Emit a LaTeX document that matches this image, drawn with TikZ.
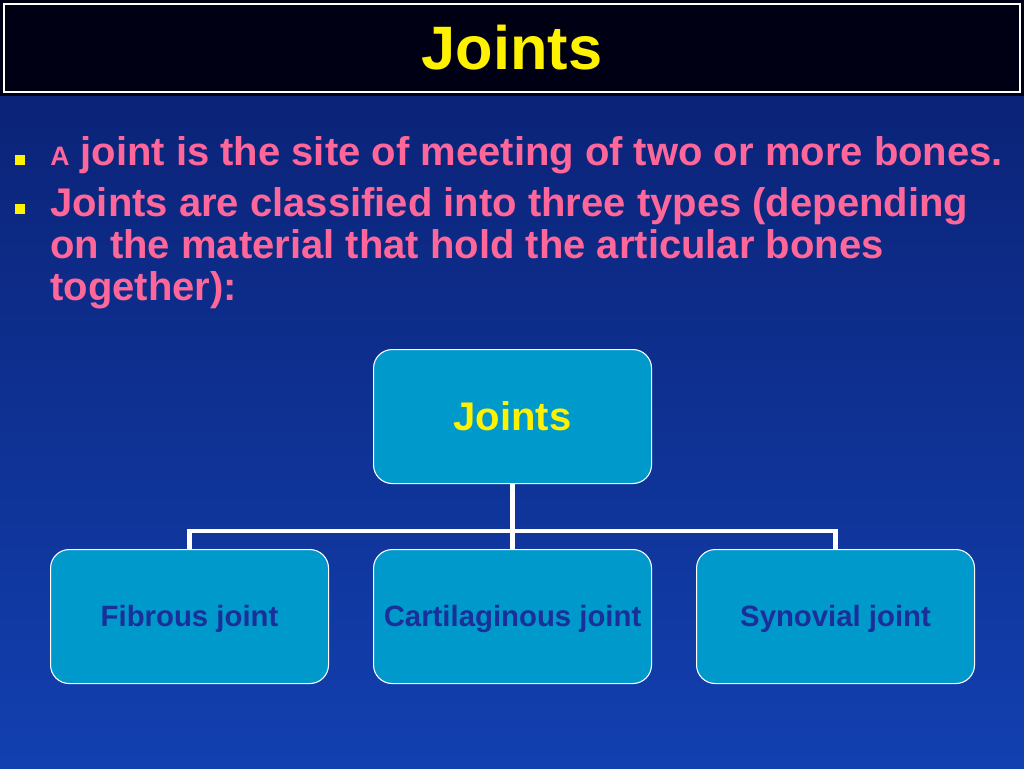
\documentclass[tikz,border=0pt]{standalone}
\usepackage{fontspec}
\setmainfont{Liberation Sans}
\definecolor{bgtop}{HTML}{0A1F70}
\definecolor{bgbot}{HTML}{1240B0}
\definecolor{pinktxt}{HTML}{FF6699}
\definecolor{boxfill}{HTML}{0099CC}
\definecolor{boxtxt}{HTML}{1A2F99}
\begin{document}
\begin{tikzpicture}[x=0.75pt,y=-0.75pt,
  box/.style={draw=white,line width=0.8pt,fill=boxfill,rounded corners=14pt,minimum width=208.5pt,minimum height=100.5pt,anchor=north west,inner sep=0pt},
  btxt/.style={text=boxtxt,font=\bfseries\fontsize{22}{25}\selectfont},
  conn/.style={draw=white,line width=3.5pt},
  bullet/.style={fill=yellow,minimum size=7.5pt,inner sep=0pt},
  body/.style={text=pinktxt,font=\bfseries\fontsize{30}{31.5}\selectfont,anchor=north west,align=left,inner sep=0pt}]
\useasboundingbox (0,0) rectangle (1024,768);
\shade[top color=bgtop,bottom color=bgbot] (0,0) rectangle (1024,768);
\fill[black!80!blue!40!black] (0,0) rectangle (1024,96);
\draw[white,line width=1.5pt] (4,4) rectangle (1020,92);
\node[text=yellow,font=\bfseries\fontsize{46}{50}\selectfont] (title) at (512,48) {Joints};
\node[bullet] (b1) at (20,160) {};
\node[bullet] (b2) at (20,209) {};
\node[body] (t1) at (50,136) {{\fontsize{20}{22}\selectfont A} joint is the site of meeting of two or more bones.};
\node[body] (t2) at (50,187) {Joints are classified into three types (depending\\on the material that hold the articular bones\\together):};
\node[box] (top) at (373,349) {};
\node[text=yellow,font=\bfseries\fontsize{30}{32}\selectfont] at (top.center) {Joints};
\node[box] (f) at (50,549) {};
\node[box] (c) at (373,549) {};
\node[box] (s) at (696,549) {};
\node[btxt] at ([yshift=-2pt]f.center) {Fibrous joint};
\node[btxt] at ([yshift=-2pt]c.center) {Cartilaginous joint};
\node[btxt] at ([yshift=-2pt]s.center) {Synovial joint};
\coordinate (h) at (512,531);
\draw[conn] (top.south) -- (c.north);
\draw[conn] (f.north) -- (f.north |- h) -- (s.north |- h) -- (s.north);
\end{tikzpicture}
\end{document}
